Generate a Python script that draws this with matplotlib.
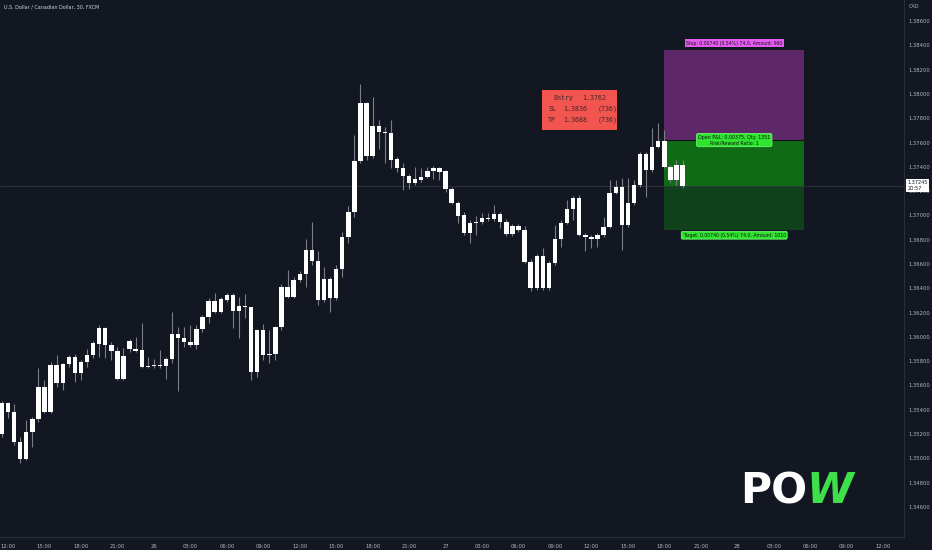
import numpy as np
import matplotlib
matplotlib.use("Agg")
import matplotlib.pyplot as plt
from matplotlib.patches import Rectangle
import matplotlib.transforms as mtransforms

# 30 min USDCAD candles, bar 0 = 25th 12:00
bars = np.arange(-1, 112)
opens = [1.35201, 1.35454, 1.35384, 1.35133, 1.34995, 1.35220, 1.35322, 1.35590, 1.35384, 1.35769,
         1.35618, 1.35778, 1.35837, 1.35701, 1.35796, 1.35851, 1.35942, 1.36071, 1.35933, 1.35884,
         1.35656, 1.35898, 1.35900, 1.35893, 1.35755, 1.35763, 1.35769, 1.35760, 1.35818, 1.36024,
         1.35989, 1.35961, 1.35933, 1.36063, 1.36161, 1.36298, 1.36208, 1.36304, 1.36345, 1.36213,
         1.36254, 1.36244, 1.35714, 1.36057, 1.35851, 1.35859, 1.36079, 1.36408, 1.36331, 1.36468,
         1.36518, 1.36715, 1.36625, 1.36304, 1.36474, 1.36318, 1.36559, 1.36825, 1.37030, 1.37450,
         1.37923, 1.37489, 1.37738, 1.37684, 1.37681, 1.37462, 1.37388, 1.37324, 1.37264, 1.37291,
         1.37318, 1.37365, 1.37388, 1.37365, 1.37215, 1.37105, 1.37003, 1.36853, 1.36948, 1.36948,
         1.36976, 1.36968, 1.37009, 1.36948, 1.36847, 1.36913, 1.36880, 1.36619, 1.36400, 1.36666,
         1.36400, 1.36606, 1.36803, 1.36940, 1.37050, 1.37146, 1.36839, 1.36825, 1.36803, 1.36839,
         1.36907, 1.37187, 1.37236, 1.36921, 1.37105, 1.37250, 1.37505, 1.37374, 1.37565, 1.37615,
         1.37401, 1.37291, 1.37415]
highs = [1.35470, 1.35467, 1.35448, 1.35179, 1.35316, 1.35343, 1.35742, 1.35645, 1.35796, 1.35851,
         1.35785, 1.35851, 1.35860, 1.35810, 1.35898, 1.35966, 1.36098, 1.36082, 1.35961, 1.35919,
         1.35906, 1.35983, 1.35997, 1.36112, 1.35837, 1.35818, 1.35893, 1.35835, 1.36208, 1.36079,
         1.36084, 1.36098, 1.36098, 1.36180, 1.36318, 1.36364, 1.36331, 1.36359, 1.36359, 1.36331,
         1.36351, 1.36249, 1.36067, 1.36106, 1.36057, 1.36090, 1.36433, 1.36551, 1.36491, 1.36545,
         1.36803, 1.36943, 1.36707, 1.36578, 1.36496, 1.36592, 1.36866, 1.37077, 1.37662, 1.38081,
         1.37930, 1.37972, 1.37785, 1.37730, 1.37785, 1.37481, 1.37434, 1.37341, 1.37396, 1.37388,
         1.37396, 1.37407, 1.37398, 1.37374, 1.37231, 1.37119, 1.37030, 1.36962, 1.36995, 1.37017,
         1.37017, 1.37086, 1.37028, 1.36970, 1.36929, 1.36929, 1.36913, 1.36641, 1.36682, 1.36729,
         1.36625, 1.36921, 1.36962, 1.37127, 1.37160, 1.37168, 1.36855, 1.36839, 1.36855, 1.36989,
         1.37291, 1.37291, 1.37305, 1.37305, 1.37291, 1.37524, 1.37522, 1.37717, 1.37758, 1.37703,
         1.37415, 1.37456, 1.37456]
lows = [1.35179, 1.35333, 1.35110, 1.34960, 1.34987, 1.35096, 1.35300, 1.35371, 1.35374, 1.35590,
        1.35563, 1.35755, 1.35631, 1.35645, 1.35750, 1.35824, 1.35837, 1.35824, 1.35810, 1.35645,
        1.35645, 1.35876, 1.35876, 1.35744, 1.35748, 1.35748, 1.35742, 1.35653, 1.35783, 1.35557,
        1.35919, 1.35915, 1.35898, 1.36043, 1.36117, 1.36197, 1.36194, 1.36290, 1.36071, 1.35989,
        1.36153, 1.35645, 1.35673, 1.35810, 1.35783, 1.35810, 1.36057, 1.36318, 1.36320, 1.36452,
        1.36413, 1.36592, 1.36263, 1.36290, 1.36208, 1.36304, 1.36496, 1.36770, 1.36989, 1.37434,
        1.37456, 1.37472, 1.37544, 1.37429, 1.37388, 1.37360, 1.37209, 1.37215, 1.37250, 1.37275,
        1.37308, 1.37297, 1.37291, 1.37195, 1.37094, 1.36935, 1.36839, 1.36775, 1.36839, 1.36929,
        1.36954, 1.36954, 1.36894, 1.36831, 1.36831, 1.36863, 1.36608, 1.36380, 1.36386, 1.36386,
        1.36386, 1.36592, 1.36742, 1.36929, 1.36962, 1.36831, 1.36710, 1.36729, 1.36742, 1.36822,
        1.36896, 1.37176, 1.36715, 1.36905, 1.37086, 1.37234, 1.37154, 1.37357, 1.37555, 1.37390,
        1.37275, 1.37250, 1.37226]
closes = [1.35456, 1.35384, 1.35133, 1.34995, 1.35220, 1.35322, 1.35590, 1.35384, 1.35769, 1.35618,
          1.35778, 1.35837, 1.35701, 1.35796, 1.35851, 1.35947, 1.36071, 1.35933, 1.35884, 1.35656,
          1.35845, 1.35966, 1.35884, 1.35755, 1.35763, 1.35769, 1.35760, 1.35818, 1.36024, 1.35989,
          1.35961, 1.35933, 1.36063, 1.36166, 1.36298, 1.36208, 1.36310, 1.36345, 1.36213, 1.36254,
          1.36244, 1.35714, 1.36057, 1.35851, 1.35859, 1.36079, 1.36408, 1.36331, 1.36468, 1.36518,
          1.36715, 1.36625, 1.36304, 1.36474, 1.36318, 1.36559, 1.36825, 1.37030, 1.37450, 1.37923,
          1.37489, 1.37738, 1.37684, 1.37676, 1.37456, 1.37388, 1.37324, 1.37264, 1.37297, 1.37318,
          1.37368, 1.37388, 1.37360, 1.37215, 1.37105, 1.36995, 1.36853, 1.36940, 1.36935, 1.36976,
          1.36968, 1.37009, 1.36948, 1.36847, 1.36913, 1.36880, 1.36619, 1.36400, 1.36666, 1.36400,
          1.36606, 1.36803, 1.36940, 1.37050, 1.37146, 1.36839, 1.36820, 1.36803, 1.36839, 1.36907,
          1.37187, 1.37236, 1.36921, 1.37105, 1.37250, 1.37505, 1.37374, 1.37565, 1.37615, 1.37401,
          1.37291, 1.37415, 1.37245]

time_ticks = np.arange(0, 145, 6)
time_labels = ["12:00", "15:00", "18:00", "21:00", "26", "03:00", "06:00", "09:00", "12:00",
               "15:00", "18:00", "21:00", "27", "03:00", "06:00", "09:00", "12:00", "15:00",
               "18:00", "21:00", "28", "03:00", "06:00", "09:00", "12:00"]
price_ticks = np.arange(1.346, 1.3861, 0.002)

# short position tool
entry, stop, target = 1.3762, 1.3836, 1.3688
pos_start, pos_end = 108, 131
last_price = closes[-1]

bg = "#131722"
txt = "#b2b5be"

fig = plt.figure(figsize=(9.32, 5.5), dpi=100, facecolor=bg)
ax = fig.add_axes([0, 13 / 550, 904 / 932, 537 / 550], facecolor=bg)

o = np.array(opens); c = np.array(closes); h = np.array(highs); l = np.array(lows)
body_lo = np.minimum(o, c)
body_h = np.maximum(np.abs(c - o), 0.00009)

# position boxes
w = pos_end - pos_start
ax.add_patch(Rectangle((pos_start, entry), w, stop - entry, facecolor="#5d2768", edgecolor="none", zorder=1))
ax.add_patch(Rectangle((pos_start, last_price), w, entry - last_price, facecolor="#0f6b14", edgecolor="none", zorder=1))
ax.add_patch(Rectangle((pos_start, target), w, last_price - target, facecolor="#0f421b", edgecolor="none", zorder=1))
ax.plot([pos_start, pos_end], [entry, entry], color="#111111", lw=0.8, zorder=2)

# current price line
ax.axhline(last_price, color="#363a45", lw=0.5, zorder=2)

ax.vlines(bars, l, h, color="#7b7e88", lw=0.8, zorder=3)
ax.bar(bars, body_h, bottom=body_lo, width=0.72, color="white", edgecolor="none", zorder=4)

ax.set_xlim(-1.32, 147.44)
ax.set_ylim(1.34353, 1.38773)

ax.yaxis.tick_right()
ax.set_yticks(price_ticks)
ax.set_yticklabels([f"{p:.5f}" for p in price_ticks])
ax.set_xticks(time_ticks)
ax.set_xticklabels(time_labels)
ax.tick_params(axis="both", length=0, colors=txt, labelsize=3.8)
ax.tick_params(axis="y", pad=3)
ax.tick_params(axis="x", pad=5)
for s in ["top", "left"]:
    ax.spines[s].set_visible(False)
for s in ["right", "bottom"]:
    ax.spines[s].set_color("#2a2e39")
    ax.spines[s].set_linewidth(0.8)

# position labels
mid = (pos_start + pos_end) / 2
ax.annotate("Stop: 0.00740 (0.54%) 74.0, Amount: 990", (mid, stop), xytext=(0, 3.2),
            textcoords="offset points", ha="center", va="bottom", fontsize=3.3, color="#111111",
            bbox=dict(boxstyle="square,pad=0.3", fc="#e35cf0", ec="none"), zorder=6)
ax.annotate("Open P&L: 0.00375, Qty: 1351\nRisk/Reward Ratio: 1", (mid, entry), ha="center",
            va="center", fontsize=3.4, color="#111111", linespacing=1.0,
            bbox=dict(boxstyle="round,pad=0.35,rounding_size=0.4", fc="#2fe52f", ec="#7cff7c", lw=0.5), zorder=6)
ax.annotate("Target: 0.00740 (0.54%) 74.0, Amount: 1010", (mid, target), xytext=(0, -2),
            textcoords="offset points", ha="center", va="top", fontsize=3.35, color="#111111",
            bbox=dict(boxstyle="round,pad=0.3,rounding_size=0.3", fc="#2fe52f", ec="#7cff7c", lw=0.5), zorder=6)

# info box
ax.add_patch(Rectangle((87.87, 1.37703), 12.33, 0.00329, facecolor="#f2544f", edgecolor="none", zorder=5))
mono = dict(fontsize=4.8, color="#3a2a2a", family="DejaVu Sans Mono", va="center", zorder=6)
ax.text(89.7, 1.37966, "Entry", **mono)
ax.text(94.5, 1.37966, f"{entry:.4f}", **mono)
ax.text(88.9, 1.37876, "SL", **mono)
ax.text(91.3, 1.37876, f"{stop:.4f}", **mono)
ax.text(97.0, 1.37876, "(736)", **mono)
ax.text(88.9, 1.37785, "TP", **mono)
ax.text(91.3, 1.37785, f"{target:.4f}", **mono)
ax.text(97.0, 1.37785, "(736)", **mono)

# last price tag on the axis
tr = mtransforms.blended_transform_factory(ax.transAxes, ax.transData)
ax.text(1.004, last_price, f"{last_price:.5f}\n20:57", transform=tr, ha="left", va="center",
        fontsize=3.6, color="#131722", linespacing=1.1, clip_on=False,
        bbox=dict(boxstyle="square,pad=0.3", fc="white", ec="none"), zorder=7)

fig.text(4 / 932, 1 - 7 / 550, "U.S. Dollar / Canadian Dollar, 30, FXCM", fontsize=3.5,
         color="#d1d4dc", va="center", ha="left")
fig.text(909 / 932, 1 - 7 / 550, "CAD", fontsize=3.6, color=txt, va="center", ha="left")

# logo
fig.text(740 / 932, 1 - 503 / 550, "PO", fontsize=30.5, fontweight="bold", color="white",
         ha="left", va="baseline")
fig.text(806 / 932, 1 - 503 / 550, "W", fontsize=30.5, fontweight="bold", color="#3ee04a",
         ha="left", va="baseline", style="italic")

fig.savefig("out.png", dpi=100, facecolor=bg)
